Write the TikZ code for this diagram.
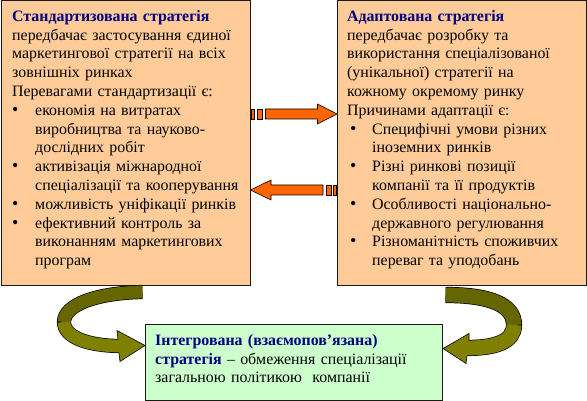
\documentclass[tikz,border=0pt]{standalone}
\usepackage{fontspec}
\setmainfont{Liberation Serif}
\usetikzlibrary{calc}
\definecolor{BoxPeach}{HTML}{FFCC99}
\definecolor{BoxMint}{HTML}{CCFFCC}
\definecolor{TitleNavy}{HTML}{000080}
\definecolor{ArrOrange}{HTML}{FF6600}
\definecolor{RibLight}{HTML}{808000}
\definecolor{RibDark}{HTML}{666600}
\setlength{\parindent}{0pt}
% bullet item: hang width, bullet offset
\newcommand{\bul}[2]{\par\hangindent=#1\hangafter=1\noindent\makebox[#1][l]{\hspace{#2}{\fontsize{18}{0}\selectfont\textbullet}}}
\newcommand{\ttl}[1]{\textbf{\color{TitleNavy}#1}}
\tikzset{
  % Base box
  SB/.style={rectangle,draw=black!90,line width=1pt,anchor=north west,inner sep=0pt},
  % Colour variants
  sP/.style={SB,fill=BoxPeach,minimum width=249pt,minimum height=284pt},
  sG/.style={SB,fill=BoxMint,minimum width=297pt,minimum height=76pt},
  % Text block
  TX/.style={anchor=north west,inner sep=0pt,align=left,text width=245pt,
             font=\fontsize{15.9}{18.8}\selectfont},
  % Arrows
  orng/.style={fill=ArrOrange,draw=black,line width=0.6pt},
  ribLine/.style={draw=black,line width=#1},
  ribUp/.style={draw=RibDark,line width=#1},
  ribLo/.style={draw=RibLight,line width=#1},
  ribHead/.style={fill=RibLight,draw=black,line width=0.6pt,line join=miter}
}

\begin{document}
\begin{tikzpicture}[x=1pt,y=-1pt]
  \useasboundingbox (0,0) rectangle (587,401);

  \node[sP] (std)   at (0.5,0.5) {};
  \node[sP] (adapt) at (337,0.5) {};
  \node[sG] (integ) at (145,324) {};

  \node[TX] (stdtxt) at ($(std.north west)+(11.5,9.5)$) {%
    \ttl{Стандартизована стратегія}\\
    передбачає застосування єдиної\\
    маркетингової стратегії на всіх\\
    зовнішніх ринках\\
    Перевагами стандартизації є:
    \bul{23pt}{0pt}економія на витратах\newline виробництва та науково-\newline дослідних робіт
    \bul{23pt}{0pt}активізація міжнародної\newline спеціалізації та кооперування
    \bul{23pt}{0pt}можливість уніфікації ринків
    \bul{23pt}{0pt}ефективний контроль за\newline виконанням маркетингових\newline програм\par};

  \node[TX] (adtxt) at ($(adapt.north west)+(10,9.5)$) {%
    \ttl{Адаптована стратегія}\\
    передбачає розробку та\\
    використання спеціалізованої\\
    (унікальної) стратегії на\\
    кожному окремому ринку\\
    Причинами адаптації є:
    \bul{25pt}{3pt}Специфічні умови різних\newline іноземних ринків
    \bul{25pt}{3pt}Різні ринкові позиції\newline компанії та її продуктів
    \bul{25pt}{3pt}Особливості національно-\newline державного регулювання
    \bul{25pt}{3pt}Різноманітність споживчих\newline переваг та уподобань\par};

  \node[TX,text width=285pt] (intxt) at ($(integ.north west)+(10,10)$) {%
    \ttl{Інтегрована (взаємопов’язана)}\\
    \ttl{стратегія} – обмеження спеціалізації\\
    загальною політикою~ компанії};

  % striped arrows between the boxes
  \coordinate (ta) at ($(std.east)+(0,-29)$);
  \coordinate (tb) at ($(adapt.west)+(0,47)$);
  \filldraw[orng] ($(ta)+(1,-5)$) rectangle ($(ta)+(4,5)$);
  \filldraw[orng] ($(ta)+(7,-5)$) rectangle ($(ta)+(12,5)$);
  \filldraw[orng] ($(ta)+(15,-5)$) -- ($(ta)+(67,-5)$) -- ($(ta)+(67,-10)$)
    -- (adapt.west |- ta) -- ($(ta)+(67,10)$) -- ($(ta)+(67,5)$) -- ($(ta)+(15,5)$) -- cycle;
  \filldraw[orng] ($(tb)+(-1,-5)$) rectangle ($(tb)+(-4,5)$);
  \filldraw[orng] ($(tb)+(-6,-5)$) rectangle ($(tb)+(-11,5)$);
  \filldraw[orng] ($(tb)+(-14,-5)$) -- ($(tb)+(-66,-5)$) -- ($(tb)+(-66,-10)$)
    -- (std.east |- tb) -- ($(tb)+(-66,10)$) -- ($(tb)+(-66,5)$) -- ($(tb)+(-14,5)$) -- cycle;

  % curved arrow: standardised -> integrated
  \coordinate (lA) at ($(std.south)+(17,6.5)$);
  \coordinate (lM) at (64,322);
  \coordinate (lE) at (121,346);
  \coordinate (lT) at ($(integ.west)+(0,-17)$);
  \draw[ribLine=14.2pt] (lA) .. controls +(-47,1) and +(0,-17) .. (lM)
                             .. controls +(0,16) and +(-31,0) .. (lE);
  \draw[ribUp=12.8pt] (lA) .. controls +(-47,1) and +(0,-17) .. (lM);
  \draw[ribLo=12.8pt] (lM) .. controls +(0,16) and +(-31,0) .. (lE);
  \filldraw[ribHead] ($(lT)+(-27,-5.5)$) -- ($(lT)+(-28,-15)$) -- (lT)
    -- ($(lT)+(-25,16)$) -- ($(lT)+(-26,7.5)$);

  % curved arrow: adapted -> integrated
  \coordinate (rA) at ($(adapt.south)+(-16.5,9.5)$);
  \coordinate (rM) at (514,325);
  \coordinate (rE) at (466,348);
  \coordinate (rT) at ($(integ.east)+(0,-14)$);
  \draw[ribLine=16.2pt] (rA) .. controls +(45,0) and +(0,-20) .. (rM)
                             .. controls +(0,17) and +(29,0) .. (rE);
  \draw[ribUp=14.8pt] (rA) .. controls +(45,0) and +(0,-20) .. (rM);
  \draw[ribLo=14.8pt] (rM) .. controls +(0,17) and +(29,0) .. (rE);
  \filldraw[ribHead] ($(rT)+(26,-7.5)$) -- ($(rT)+(26,-15)$) -- (rT)
    -- ($(rT)+(23,15)$) -- ($(rT)+(24,7.5)$);
\end{tikzpicture}
\end{document}
